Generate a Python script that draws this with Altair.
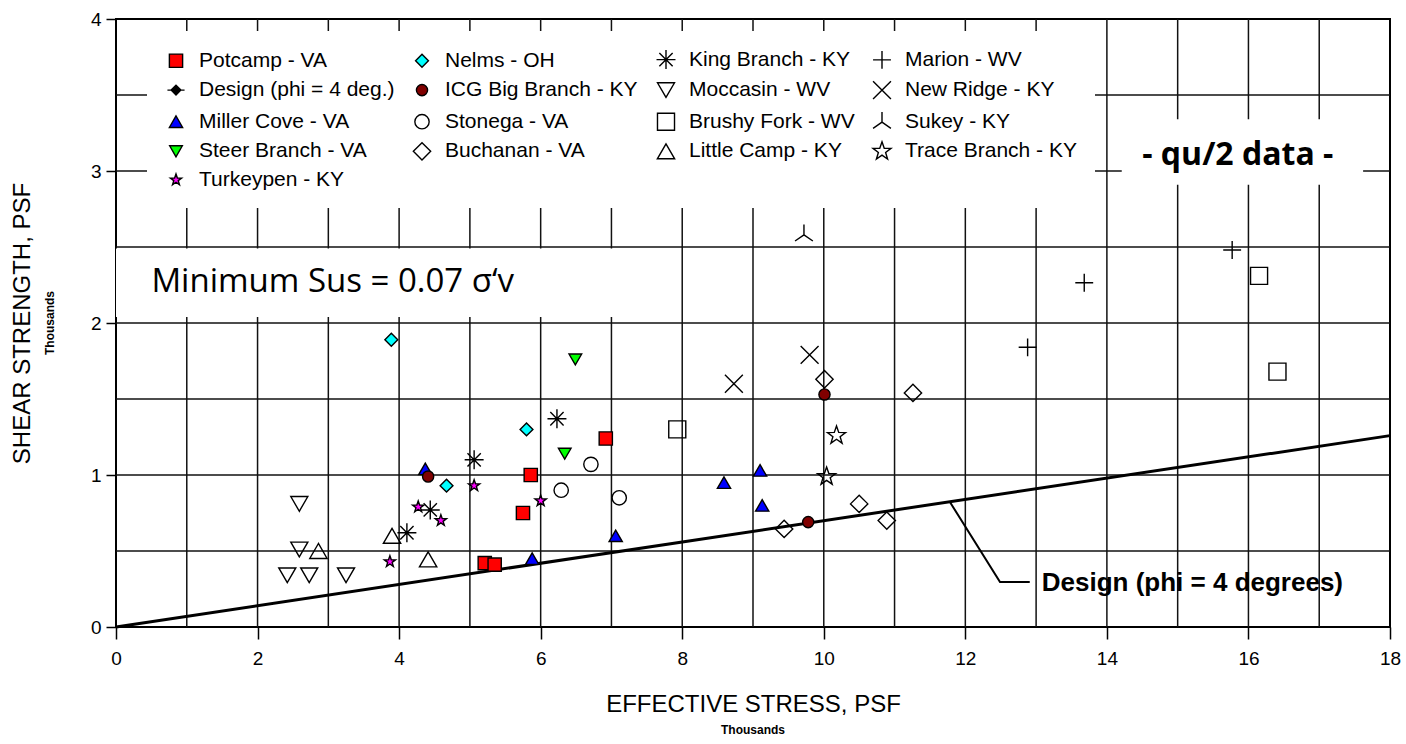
import altair as alt
import pandas as pd

# ---- Site measurements (effective stress vs. shear strength, thousands of psf) ----
potcamp_x = [5.86, 6.92, 5.75, 5.21, 5.35]
potcamp_y = [1.00, 1.24, 0.75, 0.42, 0.41]
miller_x = [7.06, 5.88, 4.37, 8.59, 9.10, 9.13]
miller_y = [0.60, 0.45, 1.04, 0.95, 1.03, 0.80]
steer_x = [6.49, 6.34]
steer_y = [1.76, 1.14]
turkey_x = [5.06, 6.00, 4.27, 4.59, 3.87]
turkey_y = [0.93, 0.83, 0.79, 0.70, 0.43]
nelms_x = [3.89, 5.80, 4.67]
nelms_y = [1.89, 1.30, 0.93]
icg_x = [4.41, 10.01, 9.78]
icg_y = [0.99, 1.53, 0.69]
stonega_x = [6.71, 6.29, 7.11]
stonega_y = [1.07, 0.90, 0.85]
buchanan_x = [10.01, 11.26, 10.50, 10.89, 9.44]
buchanan_y = [1.63, 1.54, 0.81, 0.70, 0.645]
king_x = [6.23, 5.06, 4.44, 4.11]
king_y = [1.37, 1.10, 0.77, 0.62]
moccasin_x = [2.59, 2.59, 2.42, 2.73, 3.25]
moccasin_y = [0.81, 0.51, 0.34, 0.34, 0.34]
brushy_x = [7.93, 16.15, 16.41]
brushy_y = [1.30, 2.31, 1.68]
little_x = [2.86, 3.90, 4.41]
little_y = [0.50, 0.60, 0.445]
marion_x = [15.77, 13.68, 12.88]
marion_y = [2.48, 2.265, 1.84]
newridge_x = [9.80, 8.73]
newridge_y = [1.79, 1.60]
sukey_x = [9.72]
sukey_y = [2.58]
trace_x = [10.18, 10.04]
trace_y = [1.26, 0.99]

# Design envelope (phi = 4 degrees)
design_x = [0, 18]
design_y = [0, 1.259]
leader_x = [11.78, 12.49, 12.91]
leader_y = [0.824, 0.296, 0.296]

# Grid and tick positions
x_grid = list(range(1, 18))
y_grid = [0.5, 1, 1.5, 2, 2.5, 3, 3.5]
x_ticks = list(range(0, 19, 2))
y_ticks = [0, 1, 2, 3, 4]

# Marker glyphs
STAR = ("M0,-1L0.235,-0.324L0.951,-0.309L0.380,0.124L0.588,0.809L0,0.4"
        "L-0.588,0.809L-0.380,0.124L-0.951,-0.309L-0.235,-0.324Z")
PLUS = "M-1,0L1,0M0,-1L0,1"
CROSS_X = "M-1,-1L1,1M-1,1L1,-1"
ASTER = "M-1,0L1,0M0,-1L0,1M-0.7,-0.7L0.7,0.7M-0.7,0.7L0.7,-0.7M-0.2,0L0.2,0M0,-0.2L0,0.2"
TRI_Y = "M0,0L0,-1M0,0L-0.87,0.6M0,0L0.87,0.6"
DESIGN_SYM = "M-1.4,0L1.4,0M0,-0.8L0.8,0L0,0.8L-0.8,0Z"

# Legend entries, listed row by row for a 4-column legend
legend_rows = [
    # name, shape, fill, size
    ("Potcamp - VA", "square", "#ff0000", 175),
    ("Nelms - OH", "diamond", "#00ffff", 165),
    ("King Branch - KY", ASTER, "transparent", 360),
    ("Marion - WV", PLUS, "transparent", 320),
    ("Design (phi = 4 deg.)", DESIGN_SYM, "#000000", 150),
    ("ICG Big Branch - KY", "circle", "#800000", 125),
    ("Moccasin - WV", "triangle-down", "transparent", 290),
    ("New Ridge - KY", CROSS_X, "transparent", 320),
    ("Miller Cove - VA", "triangle-up", "#0000ff", 175),
    ("Stonega - VA", "circle", "transparent", 205),
    ("Brushy Fork - WV", "square", "transparent", 290),
    ("Sukey - KY", TRI_Y, "transparent", 420),
    ("Steer Branch - VA", "triangle-down", "#00ff00", 160),
    ("Buchanan - VA", "diamond", "transparent", 300),
    ("Little Camp - KY", "triangle-up", "transparent", 300),
    ("Trace Branch - KY", STAR, "transparent", 360),
    ("Turkeypen - KY", STAR, "#ff00ff", 140),
]
site_names = [r[0] for r in legend_rows]
site_shapes = [r[1] for r in legend_rows]
site_fills = [r[2] for r in legend_rows]
site_sizes = [r[3] for r in legend_rows]
site_strokes = ["black"] * len(legend_rows)

series = {
    "Potcamp - VA": (potcamp_x, potcamp_y),
    "Miller Cove - VA": (miller_x, miller_y),
    "Steer Branch - VA": (steer_x, steer_y),
    "Turkeypen - KY": (turkey_x, turkey_y),
    "Nelms - OH": (nelms_x, nelms_y),
    "ICG Big Branch - KY": (icg_x, icg_y),
    "Stonega - VA": (stonega_x, stonega_y),
    "Buchanan - VA": (buchanan_x, buchanan_y),
    "King Branch - KY": (king_x, king_y),
    "Moccasin - WV": (moccasin_x, moccasin_y),
    "Brushy Fork - WV": (brushy_x, brushy_y),
    "Little Camp - KY": (little_x, little_y),
    "Marion - WV": (marion_x, marion_y),
    "New Ridge - KY": (newridge_x, newridge_y),
    "Sukey - KY": (sukey_x, sukey_y),
    "Trace Branch - KY": (trace_x, trace_y),
}
rows = []
for name, (xs, ys) in series.items():
    for xv, yv in zip(xs, ys):
        rows.append({"site": name, "stress": xv, "strength": yv})
points_df = pd.DataFrame(rows)

FONT = "Liberation Sans"
NOTE_FONT = "Open Sans"

x_scale = alt.Scale(domain=[0, 18], nice=False, zero=True)
y_scale = alt.Scale(domain=[0, 4], nice=False, zero=True)
x_axis = alt.Axis(values=x_ticks, grid=False, domain=False, tickSize=12, tickWidth=1.5,
                  tickColor="black", labelFont=FONT, labelFontSize=19, labelColor="black",
                  labelPadding=10, labelFlush=False, title="EFFECTIVE STRESS, PSF",
                  titleFont=FONT, titleFontSize=24, titleFontWeight="normal",
                  titleColor="black", titlePadding=24)
y_axis = alt.Axis(values=y_ticks, grid=False, domain=False, tickSize=10, tickWidth=1.5,
                  tickColor="black", labelFont=FONT, labelFontSize=19, labelColor="black",
                  labelPadding=5, labelFlush=False, title="SHEAR STRENGTH, PSF",
                  titleFont=FONT, titleFontSize=24, titleFontWeight="normal",
                  titleColor="black", titlePadding=56)


def X(field):
    return alt.X(field, type="quantitative", scale=x_scale, axis=x_axis)


def Y(field):
    return alt.Y(field, type="quantitative", scale=y_scale, axis=y_axis)


GRID = "#111111"
vgrid = alt.Chart(pd.DataFrame({"gx": x_grid})).mark_rule(
    color=GRID, strokeWidth=1.5).encode(x=X("gx"))
hgrid = alt.Chart(pd.DataFrame({"gy": y_grid})).mark_rule(
    color=GRID, strokeWidth=1.5).encode(y=Y("gy"))

# White backing panels for the two notes
note_boxes = pd.DataFrame({
    "x0": [0.0, 14.21], "x1": [7.94, 17.62],
    "y0": [2.04, 2.91], "y1": [2.49, 3.34],
})
boxes = alt.Chart(note_boxes).mark_rect(color="white").encode(
    x=X("x0"), x2="x1", y=Y("y0"), y2="y1")

design = alt.Chart(pd.DataFrame({"dx": design_x, "dy": design_y})).mark_line(
    color="black", strokeWidth=3).encode(x=X("dx"), y=Y("dy"))

leader = alt.Chart(pd.DataFrame({"lx": leader_x, "ly": leader_y,
                                 "k": list(range(len(leader_x)))})).mark_line(
    color="black", strokeWidth=2).encode(x=X("lx"), y=Y("ly"), order="k:Q")

leg = alt.Legend(title=None, orient="none", legendX=31, legendY=12, columns=4,
                 direction="horizontal",
                 fillColor="white", padding=18, rowPadding=5.6, columnPadding=15,
                 labelFont=FONT, labelFontSize=21, labelColor="black", labelLimit=400,
                 labelOffset=12, symbolStrokeColor="black", symbolStrokeWidth=1.4,
                 symbolOpacity=1)

points = alt.Chart(points_df).mark_point(
    stroke="black", strokeWidth=1.4, opacity=1).encode(
    x=X("stress"),
    y=Y("strength"),
    shape=alt.Shape("site:N", scale=alt.Scale(domain=site_names, range=site_shapes), legend=leg),
    fill=alt.Fill("site:N", scale=alt.Scale(domain=site_names, range=site_fills), legend=leg),
    stroke=alt.Stroke("site:N", scale=alt.Scale(domain=site_names, range=site_strokes), legend=leg),
    size=alt.Size("site:N", scale=alt.Scale(type="ordinal", domain=site_names, range=site_sizes),
                  legend=leg),
)

notes_df = pd.DataFrame({
    "nx": [0.5, 15.85],
    "ny": [2.27, 3.105],
    "txt": ["Minimum Sus = 0.07 \u03c3\u2018v", "- qu/2 data -"],
})
note_min = alt.Chart(notes_df.iloc[[0]]).mark_text(
    font=NOTE_FONT, fontSize=33, align="left", baseline="middle", color="black").encode(
    x=X("nx"), y=Y("ny"), text="txt:N")
note_qu = alt.Chart(notes_df.iloc[[1]]).mark_text(
    font=NOTE_FONT, fontSize=32, fontWeight="bold", align="center", baseline="middle",
    color="black").encode(x=X("nx"), y=Y("ny"), text="txt:N")

design_label = alt.Chart(pd.DataFrame({"tx": [13.08], "ty": [0.29],
                                       "txt": ["Design (phi = 4 degrees)"]})).mark_text(
    font=FONT, fontSize=26, fontWeight="bold", align="left", baseline="middle",
    color="black").encode(x=X("tx"), y=Y("ty"), text="txt:N")

unit_df = pd.DataFrame({"u": ["Thousands"]})
x_units = alt.Chart(unit_df).mark_text(
    font=FONT, fontSize=12, fontWeight="bold", color="black", baseline="middle").encode(
    x=alt.value(637), y=alt.value(711), text="u:N")
y_units = alt.Chart(unit_df).mark_text(
    font=FONT, fontSize=12, fontWeight="bold", color="black", baseline="middle",
    angle=270).encode(x=alt.value(-66), y=alt.value(304), text="u:N")

chart = alt.layer(
    vgrid, hgrid, boxes, design, leader, points, note_min, note_qu, design_label,
    x_units, y_units,
).properties(
    width=1274, height=608,
    padding={"left": 116, "top": 19, "right": 16, "bottom": 117},
    autosize=alt.AutoSizeParams(type="none"),
    background="white",
).configure_view(stroke="black", strokeWidth=2)

chart.save("out.html", embed_options={"renderer": "svg", "actions": False})
